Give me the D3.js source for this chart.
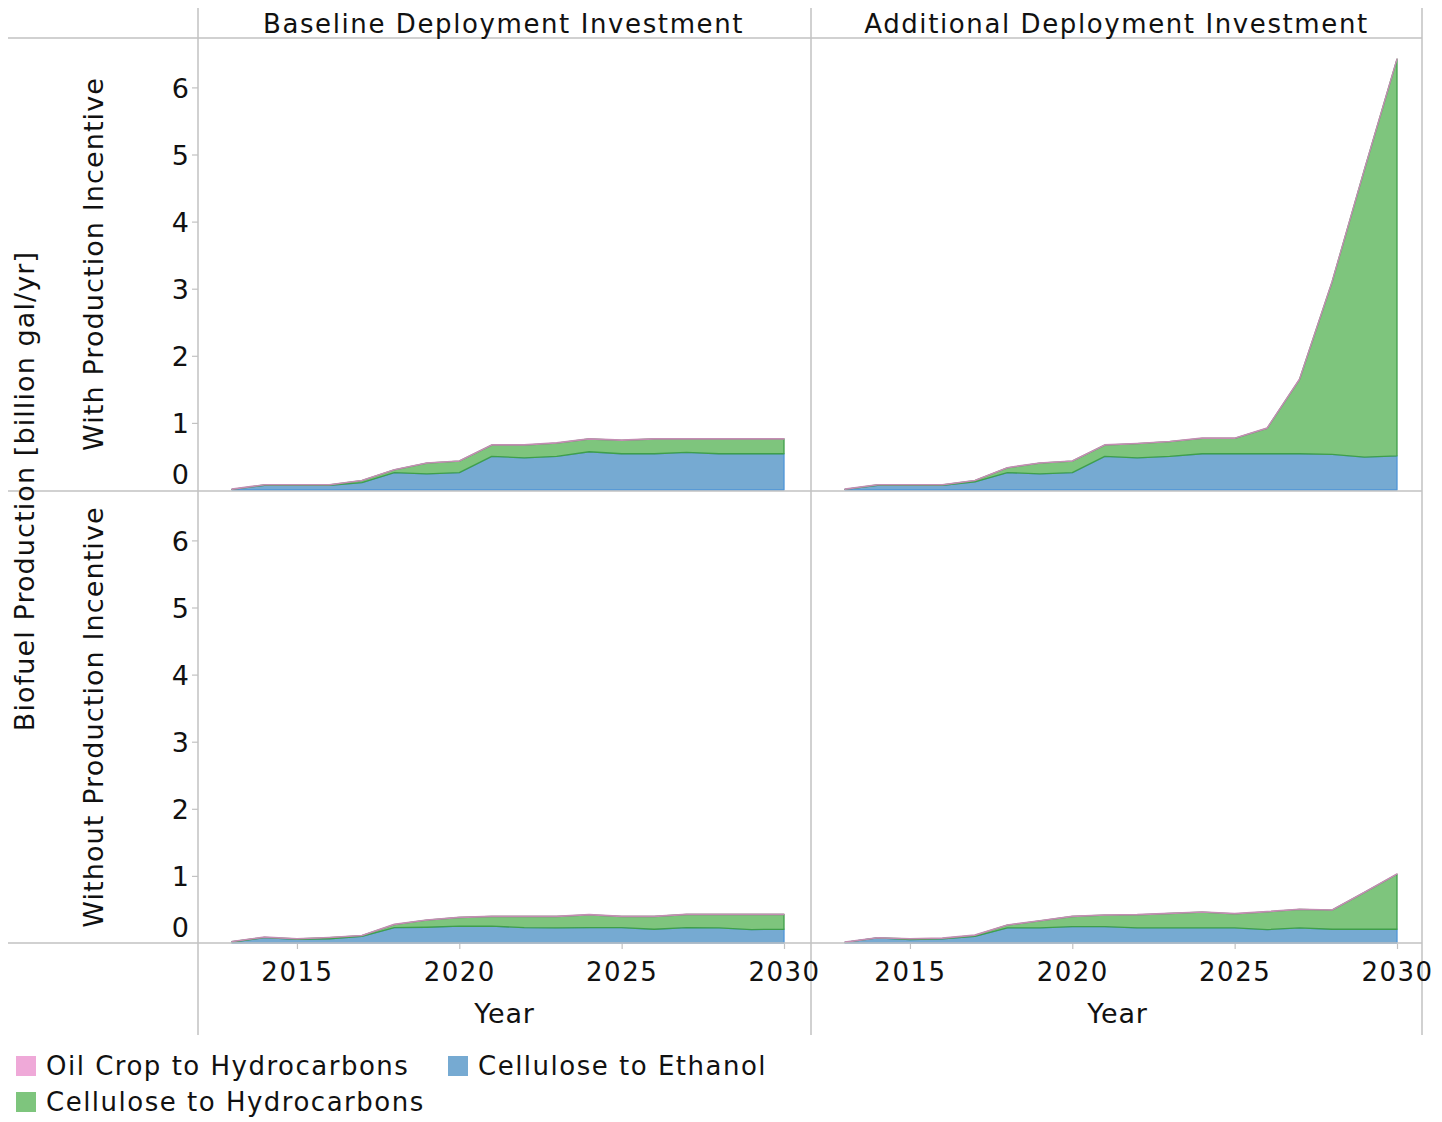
<!DOCTYPE html>
<html>
<head>
<meta charset="utf-8">
<script src="https://cdn.jsdelivr.net/npm/d3@7"></script>
<style>
  html, body { margin: 0; padding: 0; background: #fff; }
  svg text { font-family: "DejaVu Sans", sans-serif; fill: #111; }
</style>
</head>
<body>
<svg id="chart" width="1442" height="1122"></svg>
<script>
// Biofuel production by pathway, billion gal/yr, 2013-2030
const years = [2013, 2014, 2015, 2016, 2017, 2018, 2019, 2020, 2021, 2022, 2023, 2024, 2025, 2026, 2027, 2028, 2029, 2030];

const columns = ["Baseline Deployment Investment", "Additional Deployment Investment"];
const rows = ["With Production Incentive", "Without Production Incentive"];
const seriesNames = ["Oil Crop to Hydrocarbons", "Cellulose to Ethanol", "Cellulose to Hydrocarbons"];
const yTicks = [0, 1, 2, 3, 4, 5, 6];
const xTicks = [2015, 2020, 2025, 2030];

// Baseline investment, with incentive
const ethanolBaseWith = [0.01, 0.07, 0.07, 0.07, 0.11, 0.26, 0.24, 0.26, 0.50, 0.48, 0.50, 0.57, 0.54, 0.54, 0.56, 0.54, 0.54, 0.54];
const hydroBaseWith   = [0.00, 0.005, 0.005, 0.005, 0.03, 0.04, 0.16, 0.17, 0.17, 0.19, 0.20, 0.19, 0.20, 0.22, 0.20, 0.22, 0.22, 0.22];
const oilBaseWith     = [0.005, 0.005, 0.005, 0.005, 0.005, 0.005, 0.005, 0.005, 0.005, 0.005, 0.005, 0.005, 0.005, 0.005, 0.005, 0.005, 0.005, 0.005];

// Additional investment, with incentive
const ethanolAddWith = [0.01, 0.07, 0.07, 0.07, 0.12, 0.26, 0.24, 0.26, 0.50, 0.48, 0.50, 0.54, 0.54, 0.54, 0.54, 0.53, 0.49, 0.51];
const hydroAddWith   = [0.00, 0.005, 0.005, 0.005, 0.02, 0.07, 0.16, 0.17, 0.17, 0.21, 0.22, 0.23, 0.23, 0.38, 1.11, 2.57, 4.29, 5.91];
const oilAddWith     = [0.005, 0.005, 0.005, 0.005, 0.005, 0.005, 0.005, 0.005, 0.005, 0.005, 0.005, 0.005, 0.005, 0.005, 0.005, 0.005, 0.005, 0.005];

// Baseline investment, without incentive
const ethanolBaseWithout = [0.015, 0.08, 0.055, 0.06, 0.10, 0.23, 0.235, 0.25, 0.25, 0.23, 0.225, 0.23, 0.23, 0.205, 0.23, 0.225, 0.20, 0.205];
const hydroBaseWithout   = [0.005, 0.005, 0.005, 0.02, 0.01, 0.045, 0.105, 0.13, 0.145, 0.165, 0.17, 0.19, 0.165, 0.19, 0.195, 0.20, 0.225, 0.22];
const oilBaseWithout     = [0.005, 0.005, 0.005, 0.005, 0.005, 0.005, 0.005, 0.005, 0.005, 0.005, 0.005, 0.005, 0.005, 0.005, 0.005, 0.005, 0.005, 0.005];

// Additional investment, without incentive
const ethanolAddWithout = [0.01, 0.075, 0.05, 0.06, 0.10, 0.225, 0.225, 0.245, 0.245, 0.225, 0.225, 0.225, 0.225, 0.20, 0.225, 0.205, 0.205, 0.205];
const hydroAddWithout   = [0.00, 0.00, 0.01, 0.01, 0.015, 0.04, 0.105, 0.15, 0.17, 0.195, 0.215, 0.235, 0.21, 0.265, 0.275, 0.285, 0.55, 0.82];
const oilAddWithout     = [0.005, 0.005, 0.005, 0.005, 0.005, 0.005, 0.005, 0.005, 0.005, 0.005, 0.005, 0.005, 0.005, 0.005, 0.005, 0.005, 0.005, 0.005];

const panelData = [
  [ {ethanol: ethanolBaseWith, hydro: hydroBaseWith, oil: oilBaseWith},
    {ethanol: ethanolAddWith, hydro: hydroAddWith, oil: oilAddWith} ],
  [ {ethanol: ethanolBaseWithout, hydro: hydroBaseWithout, oil: oilBaseWithout},
    {ethanol: ethanolAddWithout, hydro: hydroAddWithout, oil: oilAddWithout} ]
];

const fills   = {oil: "#efa9d8", ethanol: "#76aad2", hydro: "#7ec57d"};
const strokes = {oil: "#c48db3", ethanol: "#4f95d8", hydro: "#3f9f4a"};
const stackKeys = ["ethanol", "hydro", "oil"];

// Layout
const colLeft = [198, 811];
const colW = 611;
const rowTop = [38, 491];
const rowH = 452;
const gridColor = "#c2c2c2";

const svg = d3.select("#chart");

const x = d3.scaleLinear().domain([2013, 2030]).range([34, 586]);
const y = d3.scaleLinear().domain([0, 6]).range([rowH, rowH - 6 * 67.1]);

const stack = d3.stack().keys(stackKeys);
const area = d3.area()
  .x(d => x(d.data.year))
  .y0(d => y(d[0]))
  .y1(d => y(d[1]));

rows.forEach((rowName, r) => {
  columns.forEach((colName, c) => {
    const p = panelData[r][c];
    const table = years.map((yr, i) => ({year: yr, ethanol: p.ethanol[i], hydro: p.hydro[i], oil: p.oil[i]}));
    const layers = stack(table);
    const g = svg.append("g").attr("transform", `translate(${colLeft[c]},${rowTop[r]})`);
    g.selectAll("path.layer")
      .data(layers)
      .join("path")
      .attr("class", "layer")
      .attr("d", area)
      .attr("fill", d => fills[d.key])
      .attr("stroke", d => strokes[d.key])
      .attr("stroke-width", 1.3)
      .attr("stroke-linejoin", "round");
  });
});

// Grid frame lines
const frame = svg.append("g").attr("stroke", gridColor).attr("stroke-width", 1.5).attr("fill", "none");
[rowTop[0], rowTop[1], rowTop[1] + rowH].forEach(yy => {
  frame.append("line").attr("x1", 8).attr("x2", 1422).attr("y1", yy).attr("y2", yy);
});
[colLeft[0], colLeft[1], colLeft[1] + colW].forEach(xx => {
  frame.append("line").attr("x1", xx).attr("x2", xx).attr("y1", 8).attr("y2", 1035);
});

// Y axes (one per row, left of the first column)
rows.forEach((rowName, r) => {
  const g = svg.append("g").attr("transform", `translate(${colLeft[0]},${rowTop[r]})`);
  const ax = d3.axisLeft(y).tickValues(yTicks).tickSize(6).tickPadding(3).tickFormat(d3.format("d"));
  g.call(ax);
  g.select(".domain").remove();
  g.selectAll(".tick line").attr("stroke", gridColor).attr("stroke-width", 1.2);
  g.selectAll(".tick text")
    .attr("font-size", 27)
    .attr("font-family", null)
    .attr("fill", "#111")
    .attr("dy", "0.36em")
    .attr("y", d => d === 0 ? -16 : 0);
  g.selectAll(".tick").filter(d => d === 0).select("line").remove();

  svg.append("text")
    .attr("transform", `translate(93,${rowTop[r] + rowH / 2}) rotate(-90)`)
    .attr("text-anchor", "middle")
    .attr("dy", "0.36em")
    .attr("font-size", 27)
    .attr("letter-spacing", 1.1)
    .text(rowName);
});

// X axes (under each column)
columns.forEach((colName, c) => {
  const g = svg.append("g").attr("transform", `translate(${colLeft[c]},${rowTop[1] + rowH})`);
  const ax = d3.axisBottom(x).tickValues(xTicks).tickSize(6).tickPadding(14).tickFormat(d3.format("d"));
  g.call(ax);
  g.select(".domain").remove();
  g.selectAll(".tick line").attr("stroke", gridColor).attr("stroke-width", 1.2).attr("y1", 1);
  g.selectAll(".tick text").attr("font-size", 26).attr("font-family", null).attr("fill", "#111").attr("letter-spacing", 1.5);

  svg.append("text")
    .attr("x", colLeft[c] + colW / 2 + 1)
    .attr("y", 1013)
    .attr("dy", "0.36em")
    .attr("text-anchor", "middle")
    .attr("font-size", 27)
    .attr("letter-spacing", 0.8)
    .text("Year");

  svg.append("text")
    .attr("x", colLeft[c] + colW / 2)
    .attr("y", 24)
    .attr("dy", "0.36em")
    .attr("text-anchor", "middle")
    .attr("font-size", 26)
    .attr("letter-spacing", 1.6)
    .text(colName);
});

// Overall y title
svg.append("text")
  .attr("transform", `translate(24,${rowTop[1]}) rotate(-90)`)
  .attr("text-anchor", "middle")
  .attr("dy", "0.36em")
  .attr("font-size", 27)
  .attr("letter-spacing", 1.1)
  .text("Biofuel Production [billion gal/yr]");

// Legend
const legendItems = [
  {name: seriesNames[0], key: "oil", lx: 16, ly: 1056},
  {name: seriesNames[1], key: "ethanol", lx: 448, ly: 1056},
  {name: seriesNames[2], key: "hydro", lx: 16, ly: 1092}
];
const lg = svg.append("g");
legendItems.forEach(it => {
  lg.append("rect").attr("x", it.lx).attr("y", it.ly).attr("width", 20).attr("height", 20).attr("fill", fills[it.key]);
  lg.append("text")
    .attr("x", it.lx + 30)
    .attr("y", it.ly + 10)
    .attr("dy", "0.36em")
    .attr("font-size", 26)
    .attr("letter-spacing", 1.5)
    .text(it.name);
});
</script>
</body>
</html>
